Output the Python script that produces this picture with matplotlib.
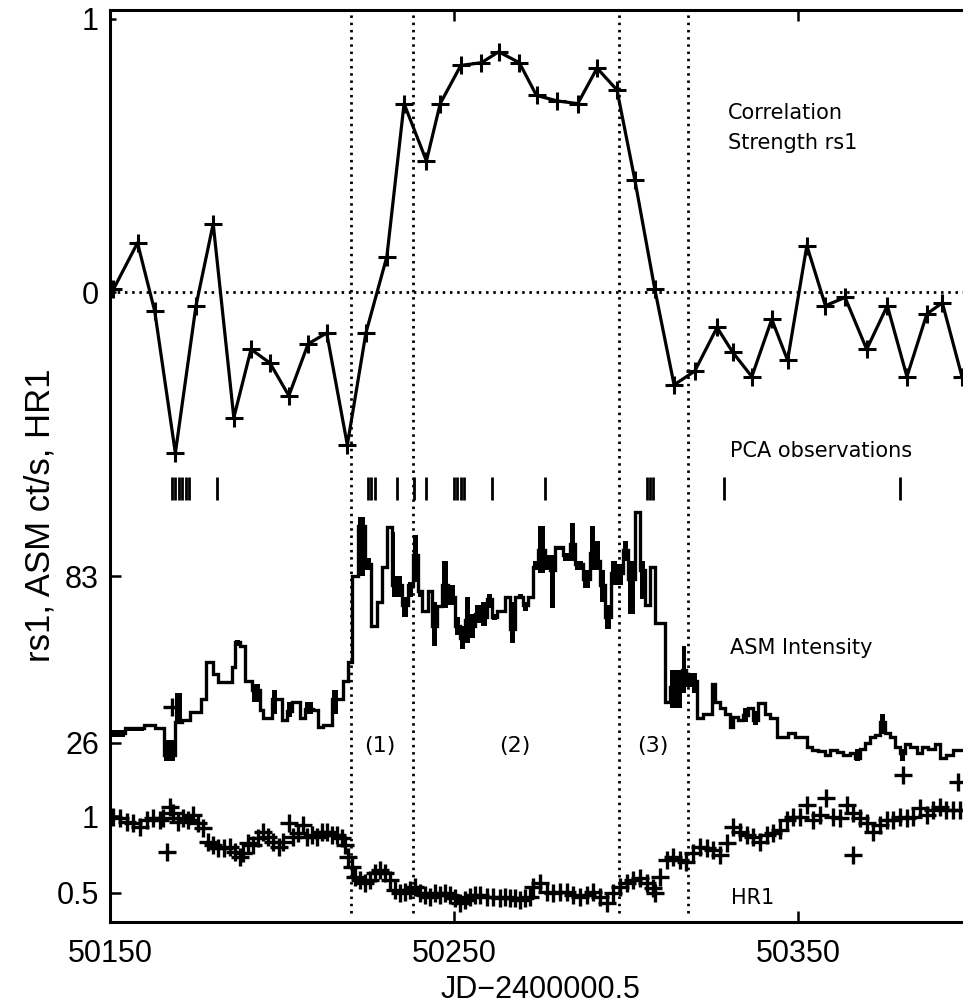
import matplotlib
matplotlib.use("Agg")
import matplotlib.pyplot as plt
import logging
logging.getLogger('matplotlib.font_manager').setLevel(logging.ERROR)

plt.rcParams['font.family'] = ['Liberation Sans', 'DejaVu Sans']

# ---------------- data ----------------
rs_days = [50151.0, 50158.0, 50163.0, 50169.0, 50175.0, 50180.0, 50186.0, 50191.0,
           50196.5, 50202.0, 50207.6, 50213.0, 50219.0, 50224.4, 50230.5, 50235.5,
           50242.0, 50246.0, 50252.0, 50258.0, 50263.0, 50269.0, 50274.0, 50280.0,
           50286.0, 50291.6, 50297.4, 50302.6, 50308.4, 50314.0, 50320.0, 50326.5,
           50331.0, 50336.6, 50342.4, 50347.0, 50352.6, 50358.0, 50363.7, 50370.0,
           50376.0, 50381.7, 50387.5, 50392.0, 50397.7]
rs_vals = [0.01, 0.18, -0.07, -0.59, -0.05, 0.25, -0.46, -0.21,
           -0.26, -0.38, -0.19, -0.15, -0.56, -0.15, 0.13, 0.69,
           0.48, 0.69, 0.83, 0.84, 0.88, 0.84, 0.72, 0.70,
           0.69, 0.82, 0.74, 0.41, 0.01, -0.34, -0.29, -0.13,
           -0.22, -0.31, -0.10, -0.25, 0.17, -0.05, -0.02, -0.21,
           -0.05, -0.31, -0.08, -0.04, -0.31]

pca_days = [50168.0, 50169.0, 50170.0, 50171.0, 50172.0, 50173.0, 50181.0,
            50225.0, 50226.0, 50227.0, 50233.4, 50238.5, 50242.0,
            50250.0, 50251.0, 50252.0, 50253.0, 50261.0, 50276.5,
            50306.0, 50307.0, 50308.0, 50328.5, 50379.7]

asm_start = [50150.0, 50154.4, 50160.0, 50163.0, 50165.8, 50169.0, 50170.8, 50173.3,
             50176.6, 50178.0, 50180.0, 50181.5, 50185.4, 50186.3, 50187.8, 50189.2,
             50191.2, 50193.6, 50194.6, 50197.0, 50198.5, 50199.9, 50201.4, 50202.8,
             50205.2, 50206.7, 50209.0, 50210.6, 50212.0, 50214.4, 50216.4, 50217.8,
             50219.3, 50220.3, 50222.2, 50224.1, 50226.0, 50227.5, 50229.0, 50230.4,
             50231.9, 50232.9, 50234.8, 50236.7, 50238.2, 50239.6, 50240.6, 50242.5,
             50243.5, 50245.0, 50246.4, 50248.4, 50250.3, 50251.8, 50253.2, 50254.7,
             50256.1, 50258.0, 50259.5, 50261.0, 50262.4, 50264.8, 50266.3, 50267.7,
             50268.7, 50270.2, 50271.6, 50273.1, 50274.5, 50276.5, 50277.9, 50279.4,
             50281.8, 50283.7, 50285.2, 50287.6, 50289.5, 50291.0, 50292.4, 50293.9,
             50295.8, 50297.3, 50299.2, 50300.7, 50302.6, 50304.1, 50305.5, 50307.0,
             50308.4, 50311.3, 50312.8, 50316.2, 50317.6, 50319.1, 50320.6, 50322.5,
             50324.9, 50325.9, 50327.3, 50328.8, 50330.2, 50331.2, 50332.7, 50334.1,
             50335.6, 50337.0, 50338.5, 50340.4, 50341.9, 50343.8, 50345.3, 50347.2,
             50349.1, 50350.6, 50352.5, 50354.0, 50355.9, 50357.9, 50359.3, 50361.3,
             50363.2, 50365.1, 50366.6, 50368.0, 50369.5, 50371.0, 50372.4, 50373.8,
             50375.3, 50376.8, 50378.2, 50379.7, 50381.1, 50382.6, 50384.5, 50386.0,
             50387.9, 50389.8, 50391.3, 50393.2, 50395.2]
asm_end = 50398.0
asm_vals = [29.5, 31, 32, 31, 22, 33, 34, 36.7,
            41, 53.6, 49.5, 46.7, 52, 60.5, 59, 47,
            44, 37.4, 34.6, 41, 41, 34, 37, 40,
            34.6, 37.5, 37.4, 31.5, 32, 41, 41, 47,
            53.6, 83, 100, 87, 66, 74, 86, 99.6,
            80, 80, 73, 80, 90, 78, 71, 78,
            66, 72.6, 80, 76, 66, 62, 68, 66,
            70, 69, 75, 69, 71, 76, 65, 76,
            76, 73, 76, 86, 92, 88, 85, 93,
            90, 94, 87, 82, 91, 88, 80, 69,
            84, 84, 92, 82, 105, 85, 73, 86,
            67, 40, 45, 51, 48, 47, 34.6, 36,
            46, 40, 38, 36, 31.5, 35, 34, 35.5,
            38, 34, 39.5, 36, 34.5, 28, 28, 29.5,
            28, 28, 24.6, 23.6, 23.3, 22, 23.6, 23,
            22, 22.5, 21, 24, 26, 28, 28.8, 33,
            29.5, 28, 24.6, 22.5, 25.5, 24.6, 22.5, 24.6,
            24, 25.5, 21, 22, 23.6]
asm_lo = [28, 30, 32, 31, 20, 33, 34, 36.7,
          41, 53.6, 49.5, 46.7, 52, 59, 59, 47,
          40, 37.4, 34.6, 36, 41, 34, 35, 40,
          34.6, 36, 37.4, 31.5, 32, 36, 41, 47,
          53.6, 83, 83, 85, 66, 74, 86, 99.6,
          76, 76, 69, 76, 81, 76, 71, 78,
          59, 72.6, 72, 73, 63, 58, 60, 62,
          67, 66, 72, 68, 71, 76, 60, 76,
          75, 71, 76, 85, 84, 85, 72, 92,
          88, 88, 85, 79, 85, 85, 74, 65,
          80, 80, 88, 70, 105, 75, 73, 86,
          67, 40, 38, 43, 45, 43, 34.6, 36,
          46, 40, 38, 36, 31.5, 35, 34, 33,
          38, 32, 39.5, 36, 34.5, 28, 28, 29.5,
          28, 28, 24.6, 23.6, 23.3, 22, 23.6, 23,
          22, 22.5, 20, 24, 26, 28, 28.8, 29,
          29.5, 28, 24.6, 20, 25.5, 24.6, 22.5, 24.6,
          24, 25.5, 21, 22, 23.6]
asm_hi = [30.5, 31.5, 32, 31, 27, 43, 34, 36.7,
          41, 53.6, 49.5, 46.7, 52, 61, 59, 47,
          46, 37.4, 34.6, 44, 41, 34, 40, 40,
          34.6, 40, 37.4, 31.5, 32, 44, 41, 47,
          53.6, 83, 103, 89, 66, 74, 86, 99.6,
          98, 83, 76, 81, 97, 78, 71, 78,
          74, 72.6, 88, 80, 69, 66, 76, 70,
          73, 74, 77, 70, 71, 76, 74, 76,
          77, 74, 76, 88, 100, 90, 90, 93,
          91, 101, 88, 85, 100, 95, 85, 73,
          88, 87, 95, 88, 105, 88, 73, 86,
          67, 40, 51, 59, 50, 50, 34.6, 36,
          46, 40, 38, 36, 31.5, 35, 34, 38,
          38, 37, 39.5, 36, 34.5, 28, 28, 29.5,
          28, 28, 24.6, 23.6, 23.3, 22, 23.6, 23,
          22, 22.5, 24, 24, 26, 28, 28.8, 36,
          29.5, 28, 24.6, 24, 25.5, 24.6, 22.5, 24.6,
          24, 25.5, 21, 22, 23.6]

hr_days = [50151.0, 50152.9, 50154.9, 50156.8, 50158.7, 50160.7, 50162.6, 50164.5,
           50165.5, 50166.5, 50167.4, 50168.4, 50169.9, 50171.3, 50172.8, 50174.2,
           50175.7, 50177.1, 50178.6, 50180.0, 50181.5, 50183.0, 50184.9, 50186.3,
           50187.8, 50188.8, 50190.2, 50191.7, 50193.1, 50194.6, 50196.0, 50197.5,
           50199.0, 50200.4, 50201.9, 50203.3, 50204.8, 50206.2, 50207.2, 50208.6,
           50210.1, 50211.5, 50213.0, 50214.4, 50215.9, 50217.4, 50218.3, 50219.3,
           50220.3, 50221.2, 50222.7, 50224.1, 50225.6, 50227.0, 50228.5, 50230.0,
           50231.4, 50232.9, 50234.3, 50235.8, 50237.2, 50238.7, 50240.1, 50241.6,
           50243.0, 50244.5, 50246.0, 50247.4, 50248.8, 50250.3, 50251.8, 50253.2,
           50254.7, 50256.1, 50257.6, 50259.5, 50261.4, 50263.4, 50264.8, 50266.3,
           50267.7, 50269.2, 50270.6, 50272.1, 50273.1, 50275.0, 50277.0, 50278.9,
           50280.8, 50282.8, 50284.7, 50286.6, 50288.6, 50290.5, 50292.5, 50294.4,
           50296.3, 50298.3, 50300.2, 50302.1, 50304.1, 50306.0, 50308.0, 50309.9,
           50311.8, 50313.8, 50315.7, 50317.6, 50319.6, 50321.5, 50323.5, 50325.4,
           50327.3, 50329.3, 50331.2, 50333.2, 50335.1, 50337.0, 50339.0, 50340.9,
           50342.8, 50344.8, 50346.7, 50348.7, 50350.6, 50352.5, 50354.5, 50356.4,
           50358.3, 50360.3, 50362.2, 50364.2, 50366.1, 50368.0, 50370.0, 50371.9,
           50373.9, 50375.8, 50377.7, 50379.7, 50381.6, 50383.5, 50385.5, 50387.4,
           50389.4, 50391.3, 50393.2, 50395.2, 50397.1,
           50168.0, 50308.5, 50366.1, 50380.6, 50396.6]
hr_vals = [0.996, 0.985, 0.963, 0.953, 0.931, 0.974, 0.985, 0.974,
           0.985, 0.769, 1.061, 1.018, 0.963, 0.985, 0.974, 1.007,
           0.953, 0.920, 0.834, 0.812, 0.790, 0.790, 0.801, 0.769,
           0.736, 0.758, 0.823, 0.812, 0.855, 0.899, 0.866, 0.834,
           0.801, 0.834, 0.953, 0.866, 0.888, 0.942, 0.866, 0.877,
           0.866, 0.899, 0.899, 0.877, 0.877, 0.855, 0.812, 0.736,
           0.671, 0.606, 0.585, 0.563, 0.585, 0.628, 0.650, 0.628,
           0.585, 0.520, 0.498, 0.509, 0.520, 0.541, 0.498, 0.487,
           0.476, 0.498, 0.487, 0.498, 0.487, 0.466, 0.433, 0.455,
           0.476, 0.487, 0.487, 0.476, 0.476, 0.466, 0.476, 0.466,
           0.466, 0.455, 0.466, 0.476, 0.541, 0.563, 0.509, 0.498,
           0.509, 0.509, 0.487, 0.477, 0.487, 0.509, 0.477, 0.433,
           0.498, 0.541, 0.563, 0.585, 0.596, 0.563, 0.531, 0.606,
           0.715, 0.736, 0.715, 0.704, 0.758, 0.801, 0.790, 0.780,
           0.747, 0.823, 0.931, 0.899, 0.877, 0.866, 0.834, 0.877,
           0.888, 0.909, 0.974, 0.996, 0.996, 1.072, 0.974, 1.007,
           1.115, 0.996, 0.985, 1.072, 1.018, 0.985, 0.953, 0.899,
           0.942, 0.974, 0.974, 0.996, 0.985, 0.996, 1.050, 1.007,
           1.039, 1.061, 1.039, 1.039, 1.039,
           1.71, 0.498, 0.747, 1.267, 1.223]

epoch_days = [50220, 50238, 50298, 50318]
x_ticks = [50150, 50250, 50350]
rs_ticks = [0, 1]
asm_ticks = [26, 83]
hr_ticks = [0.5, 1]

# ---------------- layout ----------------
W, H = 963, 1008
fig = plt.figure(figsize=(W / 100, H / 100), dpi=100)
L, R, T, B = 110, 963, 10, 922
rect = [L / W, 1 - B / H, (R - L) / W, (B - T) / H]

def fx(x):
    return x / W

def fy(y):
    return 1 - y / H

XMIN, XMAX = 50150, 50398
TICKFS = 22

frame = fig.add_axes(rect)
frame.set_xlim(XMIN, XMAX)
frame.set_ylim(0, 1)
frame.set_yticks([])
frame.set_xticks(x_ticks)
frame.tick_params(axis='x', direction='in', length=8, width=1.8,
                  labelsize=TICKFS, pad=12, top=True)
for s in ['left', 'top', 'bottom']:
    frame.spines[s].set_linewidth(2.2)
frame.spines['right'].set_visible(False)


def sub_axes(ylim, ticks, tick_len=8):
    ax = fig.add_axes(rect)
    ax.patch.set_alpha(0)
    ax.set_xlim(XMIN, XMAX)
    ax.set_ylim(*ylim)
    ax.xaxis.set_visible(False)
    for s in ax.spines.values():
        s.set_visible(False)
    ax.set_yticks(ticks)
    ax.set_yticklabels([('%g' % t) for t in ticks])
    ax.tick_params(axis='y', direction='in', length=tick_len, width=1.8,
                   labelsize=TICKFS, pad=8)
    return ax

# value -> pixel calibration of each band (value a at pixel pa, value b at pixel pb)
def band_lim(a, pa, b, pb):
    scale = (pa - pb) / (b - a)
    lo = a - (B - pa) / scale
    hi = b + (pb - T) / scale
    return (lo, hi)

ax_rs = sub_axes(band_lim(0, 292, 1, 19), rs_ticks, tick_len=4)
ax_asm = sub_axes(band_lim(26, 743, 83, 576), asm_ticks)
ax_hr = sub_axes(band_lim(0.5, 893, 1, 816), hr_ticks)

dots = (0, (0.9, 1.7))

# correlation strength
ax_rs.axhline(0, color='k', lw=2.0, ls=dots)
ax_rs.plot(rs_days, rs_vals, color='k', lw=2.3, marker='+', ms=13, mew=2.2)

# epoch separators
frame.vlines(epoch_days, 0.01, 1.0, colors='k', lw=2.0, linestyles=dots)

# PCA observations
frame.vlines(pca_days, (B - 500) / (B - T), (B - 477) / (B - T), colors='k', lw=2.0)

# ASM intensity
edges = asm_start + [asm_end]
ax_asm.stairs(asm_vals, edges, color='k', lw=2.4, baseline=None)
for i in range(len(asm_vals)):
    if asm_hi[i] > asm_lo[i]:
        ax_asm.bar(edges[i], asm_hi[i] - asm_lo[i], bottom=asm_lo[i],
                   width=edges[i + 1] - edges[i], align='edge', color='k', lw=0)

# HR1
ax_hr.plot(hr_days, hr_vals, ls='none', marker='+', ms=13, mew=2.4, color='k')

# annotations
AFS = 15
afam = ['DejaVu Sans']
fig.text(fx(728), fy(113), 'Correlation', fontsize=AFS, family=afam, va='center')
fig.text(fx(728), fy(143), 'Strength rs1', fontsize=AFS, family=afam, va='center')
fig.text(fx(730), fy(451), 'PCA observations', fontsize=AFS, family=afam, va='center')
fig.text(fx(730), fy(648), 'ASM Intensity', fontsize=AFS, family=afam, va='center')
fig.text(fx(731), fy(898), 'HR1', fontsize=AFS, family=afam, va='center')
for lbl, xp in [('(1)', 380), ('(2)', 515), ('(3)', 653)]:
    fig.text(fx(xp), fy(746), lbl, fontsize=16, family=afam, ha='center', va='center')

fig.text(fx(541), fy(990), 'JD\u22122400000.5', fontsize=TICKFS, ha='center', va='center')
fig.text(fx(40), fy(515), 'rs1, ASM ct/s, HR1', fontsize=25, rotation=90,
         family=['Liberation Sans Narrow', 'Liberation Sans', 'DejaVu Sans'],
         ha='center', va='center')

fig.savefig('out.png', dpi=100)
